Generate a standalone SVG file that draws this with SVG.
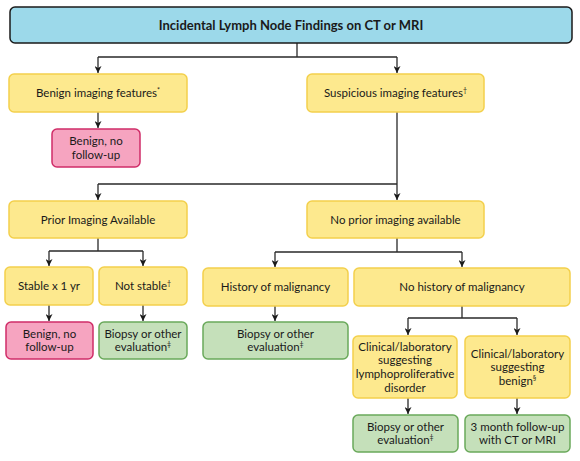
<svg xmlns="http://www.w3.org/2000/svg" width="580" height="461" viewBox="0 0 580 461">
<defs>
<style>
.t{font-family:Lato,"Liberation Sans",sans-serif;font-size:11.5px;fill:#1a1a1a;text-anchor:middle}
.h{font-family:Lato,"Liberation Sans",sans-serif;font-size:13px;font-weight:bold;fill:#1a1a1a;text-anchor:middle}
.sup{font-size:7px;baseline-shift:super}
.y{fill:#fde98e;stroke:#f3d04c;stroke-width:1.5}
.p{fill:#f6a4c0;stroke:#d02d68;stroke-width:1.5}
.g{fill:#c5e0ba;stroke:#6aa95b;stroke-width:1.5}
.b{fill:#9cd9ea;stroke:#1a1a1a;stroke-width:1.5}
.c{fill:none;stroke:#2a2a2a;stroke-width:1.3}
</style>
<marker id="ar" viewBox="0 0 10 10" refX="10" refY="5" markerWidth="7" markerHeight="7" markerUnits="userSpaceOnUse" orient="auto">
<path d="M0,0 L10,5 L0,10 L3,5 z" fill="#1a1a1a"/>
</marker>
</defs>
<rect width="580" height="461" fill="#ffffff"/>
<g id="connectors">
<path class="c" d="M297,43 V57 M98,57 H397"/>
<path class="c" d="M98,57 V73" marker-end="url(#ar)"/>
<path class="c" d="M397,57 V73" marker-end="url(#ar)"/>
<path class="c" d="M98,112 V128" marker-end="url(#ar)"/>
<path class="c" d="M397,112 V184 M98,184 H397"/>
<path class="c" d="M98,184 V200" marker-end="url(#ar)"/>
<path class="c" d="M397,184 V200" marker-end="url(#ar)"/>
<path class="c" d="M98,238 V251 M49,251 H143"/>
<path class="c" d="M49,251 V266" marker-end="url(#ar)"/>
<path class="c" d="M143,251 V266" marker-end="url(#ar)"/>
<path class="c" d="M397,238 V252 M275,252 H462"/>
<path class="c" d="M275,252 V267" marker-end="url(#ar)"/>
<path class="c" d="M462,252 V267" marker-end="url(#ar)"/>
<path class="c" d="M49,305 V321" marker-end="url(#ar)"/>
<path class="c" d="M143,305 V321" marker-end="url(#ar)"/>
<path class="c" d="M275,306 V321" marker-end="url(#ar)"/>
<path class="c" d="M462,306 V318 M408,318 H517"/>
<path class="c" d="M408,318 V335" marker-end="url(#ar)"/>
<path class="c" d="M517,318 V335" marker-end="url(#ar)"/>
<path class="c" d="M408,398 V414" marker-end="url(#ar)"/>
<path class="c" d="M517,398 V414" marker-end="url(#ar)"/>
</g>
<g id="title"><rect class="b" x="10" y="7" width="562" height="36" rx="5"/><text class="h" x="291" y="30">Incidental Lymph Node Findings on CT or MRI</text></g>
<g id="benign-features"><rect class="y" x="9" y="74" width="178" height="38" rx="5"/><text class="t" x="98" y="97">Benign imaging features<tspan class="sup">*</tspan></text></g>
<g id="suspicious-features"><rect class="y" x="307" y="74" width="177" height="38" rx="5"/><text class="t" x="395.5" y="97">Suspicious imaging features<tspan class="sup">†</tspan></text></g>
<g id="benign-1"><rect class="p" x="52" y="129" width="88" height="38" rx="5"/><text class="t" x="96" y="145">Benign, no<tspan x="96" dy="13.9">follow-up</tspan></text></g>
<g id="prior-imaging"><rect class="y" x="9" y="201" width="178" height="37" rx="5"/><text class="t" x="98" y="224">Prior Imaging Available</text></g>
<g id="no-prior-imaging"><rect class="y" x="307" y="201" width="177" height="37" rx="5"/><text class="t" x="395.5" y="224">No prior imaging available</text></g>
<g id="stable"><rect class="y" x="5" y="267" width="88" height="38" rx="5"/><text class="t" x="49" y="290">Stable x 1 yr</text></g>
<g id="not-stable"><rect class="y" x="99" y="267" width="88" height="38" rx="5"/><text class="t" x="143" y="290">Not stable<tspan class="sup">†</tspan></text></g>
<g id="history"><rect class="y" x="203" y="268" width="145" height="38" rx="5"/><text class="t" x="275.5" y="291">History of malignancy</text></g>
<g id="no-history"><rect class="y" x="354" y="268" width="216" height="38" rx="5"/><text class="t" x="462" y="291">No history of malignancy</text></g>
<g id="benign-2"><rect class="p" x="6" y="322" width="87" height="37" rx="5"/><text class="t" x="49.5" y="337.5">Benign, no<tspan x="49.5" dy="13.9">follow-up</tspan></text></g>
<g id="biopsy-1"><rect class="g" x="99" y="322" width="88" height="37" rx="5"/><text class="t" x="143" y="337.5">Biopsy or other<tspan x="143" dy="13.9">evaluation</tspan><tspan class="sup">‡</tspan></text></g>
<g id="biopsy-2"><rect class="g" x="203" y="322" width="145" height="37" rx="5"/><text class="t" x="275.5" y="337.5">Biopsy or other<tspan x="275.5" dy="13.9">evaluation</tspan><tspan class="sup">‡</tspan></text></g>
<g id="clinical-lympho"><rect class="y" x="353" y="336" width="104" height="62" rx="5"/><text class="t" x="405" y="350.5">Clinical/laboratory<tspan x="405" dy="13.9">suggesting</tspan><tspan x="405" dy="13.9">lymphoproliferative</tspan><tspan x="405" dy="13.9">disorder</tspan></text></g>
<g id="clinical-benign"><rect class="y" x="465" y="336" width="105" height="62" rx="5"/><text class="t" x="517.5" y="357.5">Clinical/laboratory<tspan x="517.5" dy="13.9">suggesting</tspan><tspan x="517.5" dy="13.9">benign</tspan><tspan class="sup">§</tspan></text></g>
<g id="biopsy-3"><rect class="g" x="353" y="415" width="105" height="37" rx="5"/><text class="t" x="405.5" y="430.5">Biopsy or other<tspan x="405.5" dy="13.9">evaluation</tspan><tspan class="sup">‡</tspan></text></g>
<g id="followup"><rect class="g" x="465" y="415" width="105" height="37" rx="5"/><text class="t" x="517.5" y="430.5">3 month follow-up<tspan x="517.5" dy="13.9">with CT or MRI</tspan></text></g>
</svg>
